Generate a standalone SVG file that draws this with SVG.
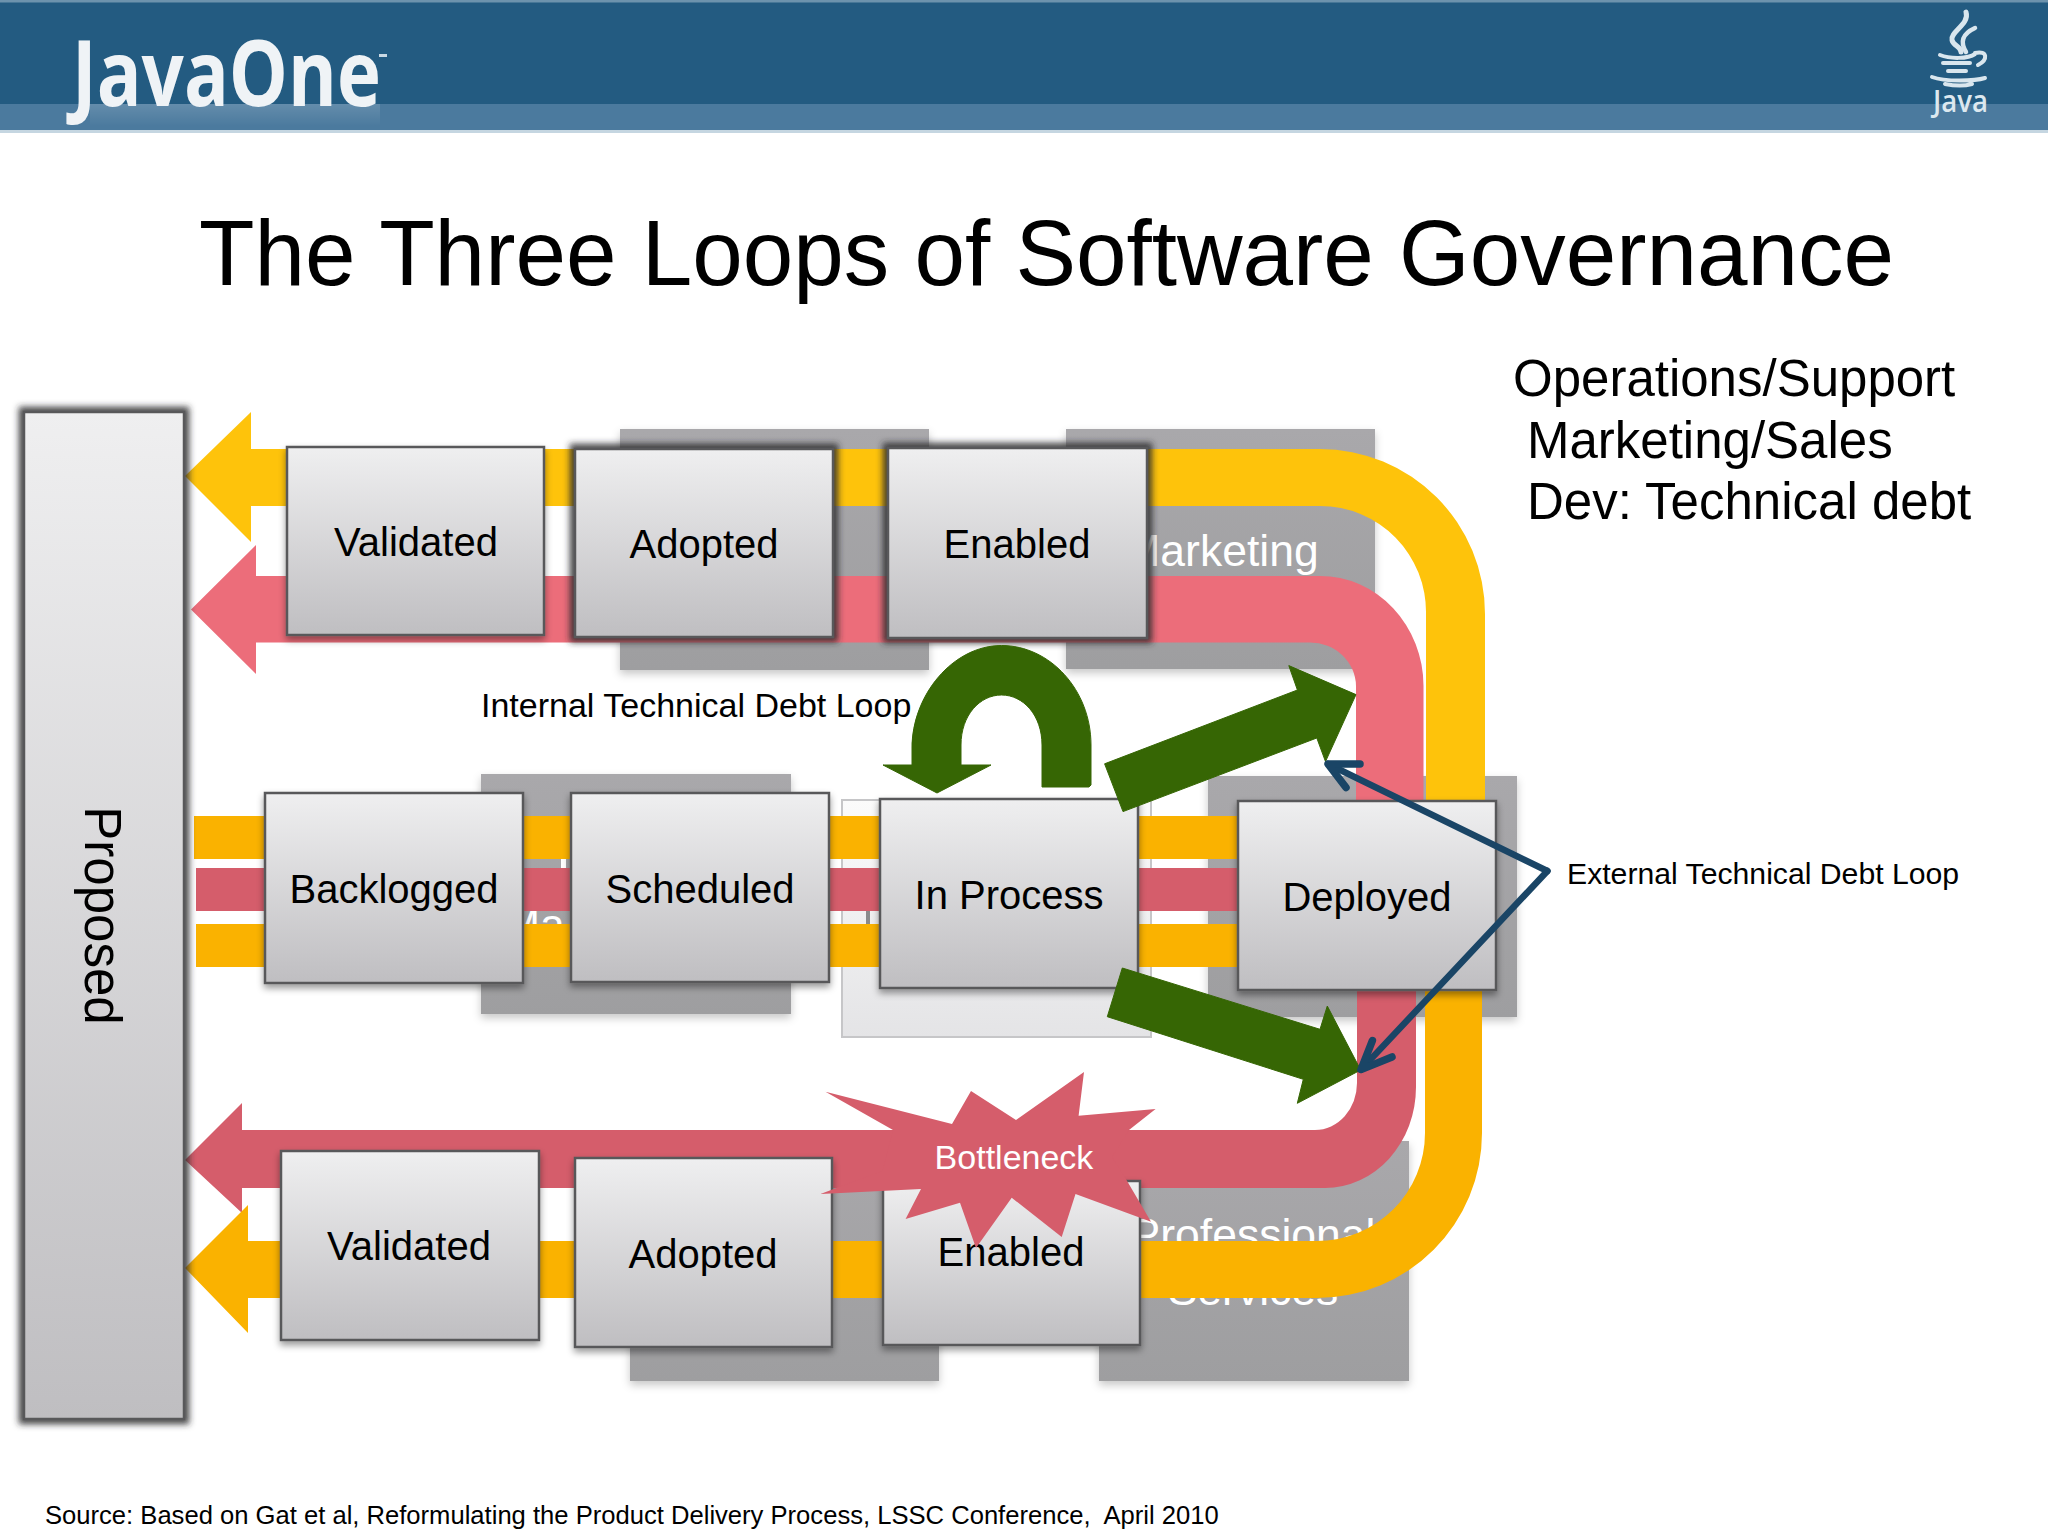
<svg xmlns="http://www.w3.org/2000/svg" width="2048" height="1536" viewBox="0 0 2048 1536">
<style>
text{font-family:"Liberation Sans",Arial,sans-serif;fill:#000}
.lbl{font-size:40px;text-anchor:middle}
.box{fill:url(#boxFill);stroke:#58585a;stroke-width:2.5}
.back{fill:url(#backFill);filter:url(#soft)}
.backtxt{font-size:44.500px;fill:#fff;text-anchor:middle}
.head{font-size:51px}
.ylA{fill:#fec30b}.ylB{fill:#fab200}.pkA{fill:#ec6d7a}.pkB{fill:#d55d6b}
.green{fill:#366604;stroke:#366604;stroke-width:1;stroke-linejoin:round}
.blue{fill:none;stroke:#1a4566;stroke-width:6.500;stroke-linecap:round;stroke-linejoin:round}
.barb{stroke-width:7.500}
.icon{fill:none;stroke:#d9e6ee;stroke-width:4;stroke-linecap:round}
</style>
<defs>
<linearGradient id="boxFill" x1="0" y1="0" x2="0" y2="1"><stop offset="0" stop-color="#efeff0"/><stop offset="1" stop-color="#bfbec1"/></linearGradient>
<linearGradient id="backFill" x1="0" y1="0" x2="0" y2="1"><stop offset="0" stop-color="#a9a8ab"/><stop offset="1" stop-color="#9e9ea0"/></linearGradient>
<linearGradient id="lightFill" x1="0" y1="0" x2="0" y2="1"><stop offset="0" stop-color="#fbfbfb"/><stop offset="1" stop-color="#e4e4e6"/></linearGradient>
<linearGradient id="reflect" x1="0" y1="0" x2="0" y2="1"><stop offset="0" stop-color="#fff" stop-opacity=".14"/><stop offset="1" stop-color="#fff" stop-opacity="0"/></linearGradient>
<filter id="soft" x="-10%" y="-10%" width="120%" height="120%"><feDropShadow dx="0" dy="4" stdDeviation="4" flood-color="#000" flood-opacity=".22"/></filter>
<filter id="shadow" x="-10%" y="-10%" width="120%" height="120%"><feDropShadow dx="0" dy="4" stdDeviation="3.500" flood-color="#000" flood-opacity=".4"/></filter>
<filter id="dark" x="-10%" y="-10%" width="120%" height="120%">
<feMorphology in="SourceAlpha" operator="dilate" radius="4" result="d"/>
<feGaussianBlur in="d" stdDeviation="3" result="b"/>
<feFlood flood-color="#2a2a2c" flood-opacity=".85"/>
<feComposite in2="b" operator="in" result="h"/>
<feMerge><feMergeNode in="h"/><feMergeNode in="SourceGraphic"/></feMerge>
</filter>
</defs>
<rect width="2048" height="1536" fill="#fff"/>

<g id="header">
<rect x="0" y="0" width="2048" height="131" fill="#235b81"/>
<rect x="0" y="0" width="2048" height="2.500" fill="#6d93ad"/>
<rect x="0" y="104" width="2048" height="27" fill="#4b7a9e"/>
<rect x="0" y="130" width="2048" height="3" fill="#c5d6e1"/>
<rect x="90" y="104" width="290" height="22" fill="url(#reflect)"/>
<text x="72" y="106" font-size="92" font-weight="700" textLength="309" lengthAdjust="spacingAndGlyphs" style="font-family:'Open Sans','Noto Sans',sans-serif;fill:#eff3f6">JavaOne</text>
<rect x="379" y="54" width="8" height="3" fill="#c9d9e4"/>
<path class="icon" style="stroke-width:5" d="M1966 12C1970 24 1950 32 1952 40C1953 46 1961 46 1961 52"/>
<path class="icon" style="stroke-width:4.500" d="M1975 28C1962 34 1960 42 1966 52"/>
<path class="icon" d="M1940 55C1950 59 1968 59 1975 54M1943 63L1970 63M1948 71L1966 71M1975 53C1988 50 1988 60 1978 65M1932 77C1945 82 1975 81 1985 78M1945 84C1955 86 1965 86 1972 84"/>
<text x="1933" y="112" font-size="30" font-weight="600" textLength="55" lengthAdjust="spacingAndGlyphs" style="font-family:'Open Sans','Noto Sans',sans-serif;fill:#dce8ef">Java</text>
</g>

<g id="title"><text x="199" y="284.500" font-size="92" textLength="1695" lengthAdjust="spacingAndGlyphs">The Three Loops of Software Governance</text></g>
<g id="legend">
<text class="head" x="1513" y="396">Operations/Support</text>
<text class="head" x="1527" y="458">Marketing/Sales</text>
<text class="head" x="1527" y="519">Dev: Technical debt</text>
</g>

<g id="backgrounds">
<rect class="back" x="620" y="429" width="309" height="241"/>
<g id="marketing-back"><rect class="back" x="1066" y="429" width="309" height="240"/><text class="backtxt" x="1221" y="566">Marketing</text></g>
<g id="manage-back"><rect class="back" x="481" y="774" width="310" height="240"/><text class="backtxt" x="503" y="940" style="text-anchor:start">Ma</text><rect x="561" y="859" width="5" height="9" fill="#fff"/></g>
<rect x="842" y="800" width="309" height="237" fill="url(#lightFill)" stroke="#c6c6c8" stroke-width="2"/>
<rect x="866" y="910" width="4" height="14" fill="#8a8a8c"/>
<rect class="back" x="1208" y="776" width="309" height="241"/>
<rect class="back" x="630" y="1141" width="309" height="240"/>
<g id="services-back"><rect class="back" x="1099" y="1141" width="310" height="240"/><text class="backtxt" x="1253" y="1250">Professional</text><text class="backtxt" x="1253" y="1305">Services</text></g>
</g>

<g id="connectors">
<path class="ylA" d="M185 476L251 412L251 449L1320 449A165 165 0 0 1 1485 614L1485 805L1426 805L1426 614A106 106 0 0 0 1320 506L251 506L251 542Z"/>
<path class="pkA" d="M191 609.500L256 545L256 576L1320 576A103.500 110 0 0 1 1423.500 686L1423.500 805L1356 805L1356 686A46 44 0 0 0 1310 642.500L256 642.500L256 674Z"/>
<path class="pkB" d="M1416 985L1416 1087A91 101 0 0 1 1325 1188L242 1188L242 1213L185 1160L242 1103L242 1130L1315 1130A42 47 0 0 0 1357 1083L1357 985Z"/>
<path class="ylB" d="M1482 985L1482 1133A165 165 0 0 1 1317 1298L248 1298L248 1333L185 1268L248 1205L248 1241L1317 1241A108 108 0 0 0 1425 1133L1425 985Z"/>
<rect class="ylB" x="194" y="816" width="1050" height="43"/>
<rect class="pkB" x="196" y="868" width="1048" height="43"/>
<rect class="ylB" x="196" y="924" width="1048" height="43"/>
</g>

<g id="node-proposed"><rect x="24" y="412" width="160" height="1007" class="box" filter="url(#dark)"/><text x="85" y="915.500" font-size="51" text-anchor="middle" transform="rotate(90 85 915.500)">Proposed</text></g>

<g id="node-validated-top"><rect class="box" x="287" y="447" width="257" height="188" filter="url(#shadow)"/><text class="lbl" x="416" y="556">Validated</text></g>
<g id="node-adopted-top"><rect class="box" x="575" y="449" width="258" height="188" filter="url(#dark)"/><text class="lbl" x="704" y="558">Adopted</text></g>
<g id="node-enabled-top"><rect class="box" x="888" y="448" width="259" height="190" filter="url(#dark)"/><text class="lbl" x="1017" y="558">Enabled</text></g>

<g id="node-backlogged"><rect class="box" x="265" y="793" width="258" height="190" filter="url(#shadow)"/><text class="lbl" x="394" y="903">Backlogged</text></g>
<g id="node-scheduled"><rect class="box" x="571" y="793" width="258" height="189" filter="url(#shadow)"/><text class="lbl" x="700" y="903">Scheduled</text></g>
<g id="node-inprocess"><rect class="box" x="880" y="799" width="258" height="189" filter="url(#shadow)"/><text class="lbl" x="1009" y="909">In Process</text></g>
<g id="node-deployed"><rect class="box" x="1238" y="801" width="258" height="189" filter="url(#shadow)"/><text class="lbl" x="1367" y="911">Deployed</text></g>

<g id="node-validated-bottom"><rect class="box" x="281" y="1151" width="258" height="189" filter="url(#shadow)"/><text class="lbl" x="409" y="1260">Validated</text></g>
<g id="node-adopted-bottom"><rect class="box" x="575" y="1158" width="257" height="189" filter="url(#shadow)"/><text class="lbl" x="703" y="1268">Adopted</text></g>
<g id="node-enabled-bottom"><rect class="box" x="883" y="1181" width="257" height="164" filter="url(#shadow)"/><text class="lbl" x="1011" y="1266">Enabled</text></g>

<g id="connectors-loops">
<path class="green" d="M1091 785L1091 745C1091 690 1050 645.500 1001.500 645.500C953 645.500 912 695 912 748L912 765L883 765L937 793L991 765L961 765L961 745C961 715 980 695 1001.500 695C1023 695 1042 715 1042 745L1042 787L1089 787Z"/>
<path class="green" d="M1104.600 763.800L1297.400 690L1288.800 665.600L1356 694.600L1325.500 761.600L1316.800 738L1123 811.600Z"/>
<path class="green" d="M1122.300 968L1320 1029.300L1327.300 1006L1360.700 1070L1297.300 1103.300L1303.300 1079.300L1107.300 1016.700Z"/>
<path class="blue" d="M1547.400 871L1328 764"/>
<path class="blue barb" d="M1360 764L1328 764L1346 787.500"/>
<path class="blue" d="M1547.400 871L1361 1069.600"/>
<path class="blue barb" d="M1372.400 1040.600L1361 1069.600L1392 1057"/>
</g>

<g id="node-bottleneck">
<polygon class="pkB" points="825.500,1091.700 952,1124 971,1091 1016,1120 1084,1072 1078.600,1115.700 1155.600,1109 1129,1130 1112,1157 1126.500,1180 1151,1221.700 1075.500,1194 1061.700,1237 1011.700,1197.700 976,1248 960,1202.700 905.600,1219 921,1189 820.400,1194 882.600,1170.700 893,1130"/>
<text x="1014" y="1169" font-size="34" text-anchor="middle" style="fill:#fff">Bottleneck</text>
</g>

<g id="labels">
<text x="481" y="717" font-size="34">Internal Technical Debt Loop</text>
<text x="1567" y="884" font-size="30.200">External Technical Debt Loop</text>
<text x="45" y="1524" font-size="25.600" xml:space="preserve">Source: Based on Gat et al, Reformulating the Product Delivery Process, LSSC Conference,  April 2010</text>
</g>
</svg>
